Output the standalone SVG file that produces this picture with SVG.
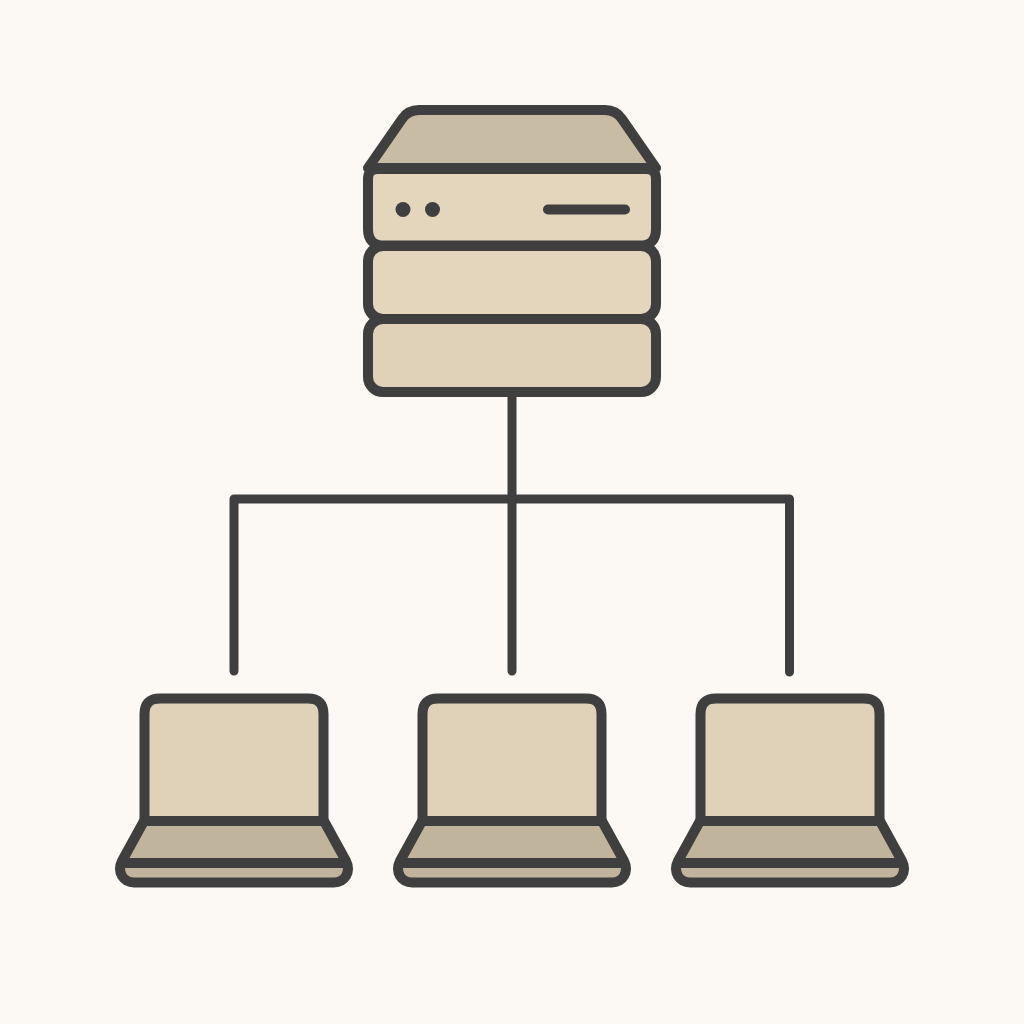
<svg xmlns="http://www.w3.org/2000/svg" width="1024" height="1024" viewBox="0 0 1024 1024">
<style>
.o{stroke:#3f3f3f;stroke-width:10;stroke-linejoin:round;stroke-linecap:round}
.l{fill:#e3d6bc}.l2{fill:#dfd2b8}.d{fill:#c8bca4}.d2{fill:#c0b49c}
.c{fill:none;stroke:#3f3f3f;stroke-width:9;stroke-linecap:round;stroke-linejoin:round}
</style>
<defs>
<g id="laptop">
<path class="o d2" d="M-90 821H90L112 861Q116 869 112 876Q108 882.500 100 882.500H-100Q-108 882.500 -112 876Q-116 869 -112 861Z"/>
<path class="c" style="stroke-width:10" d="M-112 863H112"/>
<path class="o l2" d="M-89.500 821V714Q-89.500 698.500 -74 698.500H74Q89.500 698.500 89.500 714V821Z"/>
</g>
</defs>
<rect width="1024" height="1024" fill="#fcf9f4"/>
<g id="connectors">
<path class="c" d="M512 392V671M234 671V499H789.500V672"/>
</g>
<g id="server">
<path class="o d" d="M368 168L402 119Q408 110 419 110H605Q616 110 622 119L656 168Z"/>
<path class="o l" d="M368 179Q368 169 378 169H646Q656 169 656 179V229Q656 245.500 640 245.500H384Q368 245.500 368 229Z"/>
<rect class="o l" x="368" y="246" width="288" height="73" rx="15"/>
<rect class="o l2" x="368" y="319" width="288" height="73" rx="15"/>
<circle cx="403" cy="209.500" r="7.500" fill="#3f3f3f"/>
<circle cx="432.500" cy="209.500" r="7.500" fill="#3f3f3f"/>
<path class="c" style="stroke-width:10" d="M548 209.500H625"/>
</g>
<g id="laptop-1"><use href="#laptop" x="234"/></g>
<g id="laptop-2"><use href="#laptop" x="512"/></g>
<g id="laptop-3"><use href="#laptop" x="790"/></g>
</svg>
